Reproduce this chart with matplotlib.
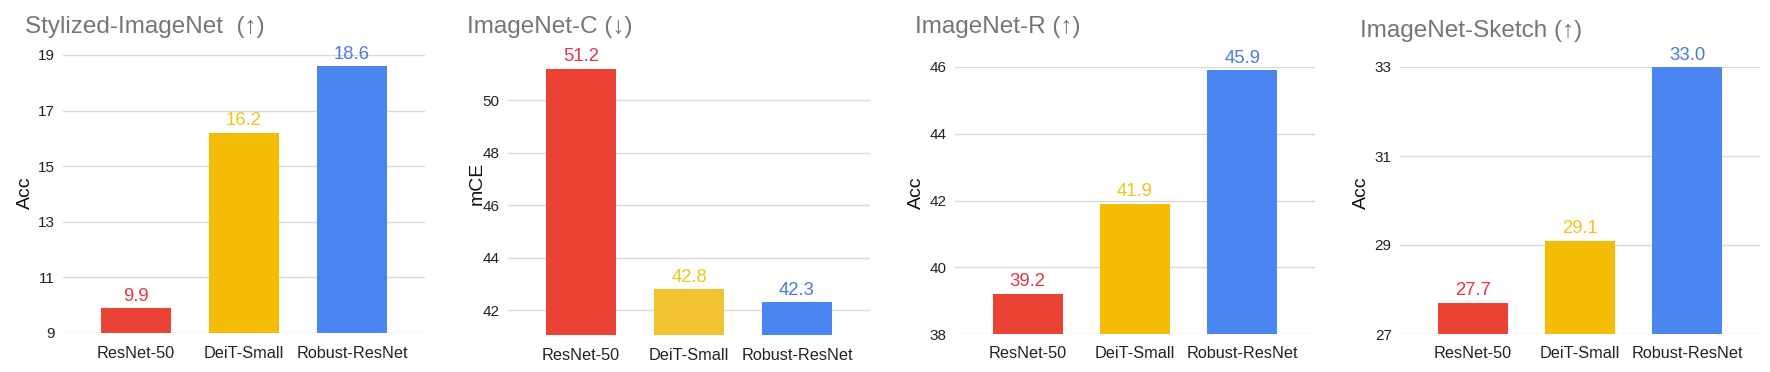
import matplotlib
matplotlib.use("Agg")
import matplotlib.pyplot as plt

plt.rcParams['font.family'] = ['Liberation Sans', 'DejaVu Sans']

categories = ["ResNet-50", "DeiT-Small", "Robust-ResNet"]

titles = ["Stylized-ImageNet  (\u2191)", "ImageNet-C (\u2193)", "ImageNet-R (\u2191)", "ImageNet-Sketch (\u2191)"]
ylabels = ["Acc", "mCE", "Acc", "Acc"]

stylized_vals = [9.9, 16.2, 18.6]
imagenet_c_vals = [51.2, 42.8, 42.3]
imagenet_r_vals = [39.2, 41.9, 45.9]
sketch_vals = [27.7, 29.1, 33.0]

stylized_ticks = [9, 11, 13, 15, 17, 19]
imagenet_c_ticks = [42, 44, 46, 48, 50]
imagenet_r_ticks = [38, 40, 42, 44, 46]
sketch_ticks = [27, 29, 31, 33]

all_vals = [stylized_vals, imagenet_c_vals, imagenet_r_vals, sketch_vals]
all_ticks = [stylized_ticks, imagenet_c_ticks, imagenet_r_ticks, sketch_ticks]
ylims = [(9, 19), (41.05, 52), (38, 46), (27, 33)]

bar_colors = [["#EA4335", "#F4BC04", "#4A86F0"],
              ["#EA4335", "#F1C232", "#4A86F0"],
              ["#EA4335", "#F4BC04", "#4A86F0"],
              ["#EA4335", "#F4BC04", "#4A86F0"]]
label_colors = ["#E2344A", "#F0C419", "#4A78E0"]

W, H = 1770, 372
fig = plt.figure(figsize=(W / 100, H / 100), dpi=100)

# pixel rects: left, top, right, bottom
rects = [(63, 55, 425, 333), (508, 48, 870, 335), (955, 67, 1315, 334), (1400, 67, 1760, 334)]
title_x = [25, 467, 915, 1360]
title_y = [33, 33, 33, 37]
ylabel_x = [25, 477, 916, 1361]
ylabel_y = [193, 183, 193, 193]

for i in range(4):
    l, t, r, b = rects[i]
    ax = fig.add_axes([l / W, 1 - b / H, (r - l) / W, (b - t) / H])
    xs = list(range(len(categories)))
    vals = all_vals[i]
    ax.bar(xs, [v - ylims[i][0] for v in vals], bottom=ylims[i][0], width=0.65,
           color=bar_colors[i], zorder=3)
    for x, v, c in zip(xs, vals, label_colors):
        ax.annotate(f"{v:.1f}", (x, v), xytext=(0, 2.5), textcoords="offset points",
                    ha="center", va="bottom", fontsize=13.3, color=c, zorder=4)
    ax.set_xlim(-0.676, 2.676)
    ax.set_ylim(*ylims[i])
    ax.set_yticks(all_ticks[i])
    ax.set_yticklabels([str(t) for t in all_ticks[i]])
    ax.set_xticks(xs)
    ax.set_xticklabels(categories)
    ax.tick_params(axis="x", length=0, pad=9, labelsize=11.7, labelcolor="#222222")
    ax.tick_params(axis="y", length=0, pad=6, labelsize=11, labelcolor="#222222")
    ax.grid(axis="y", color="#D9D9D9", linewidth=1, zorder=0)
    for s in ax.spines.values():
        s.set_visible(False)
    ax.set_facecolor("none")
    fig.text(title_x[i] / W, 1 - title_y[i] / H, titles[i], fontsize=17.5,
             color="#757575", ha="left", va="baseline")
    fig.text(ylabel_x[i] / W, 1 - ylabel_y[i] / H, ylabels[i], fontsize=14,
             color="#111111", rotation=90, ha="center", va="center")

fig.savefig("out.png", dpi=100)
